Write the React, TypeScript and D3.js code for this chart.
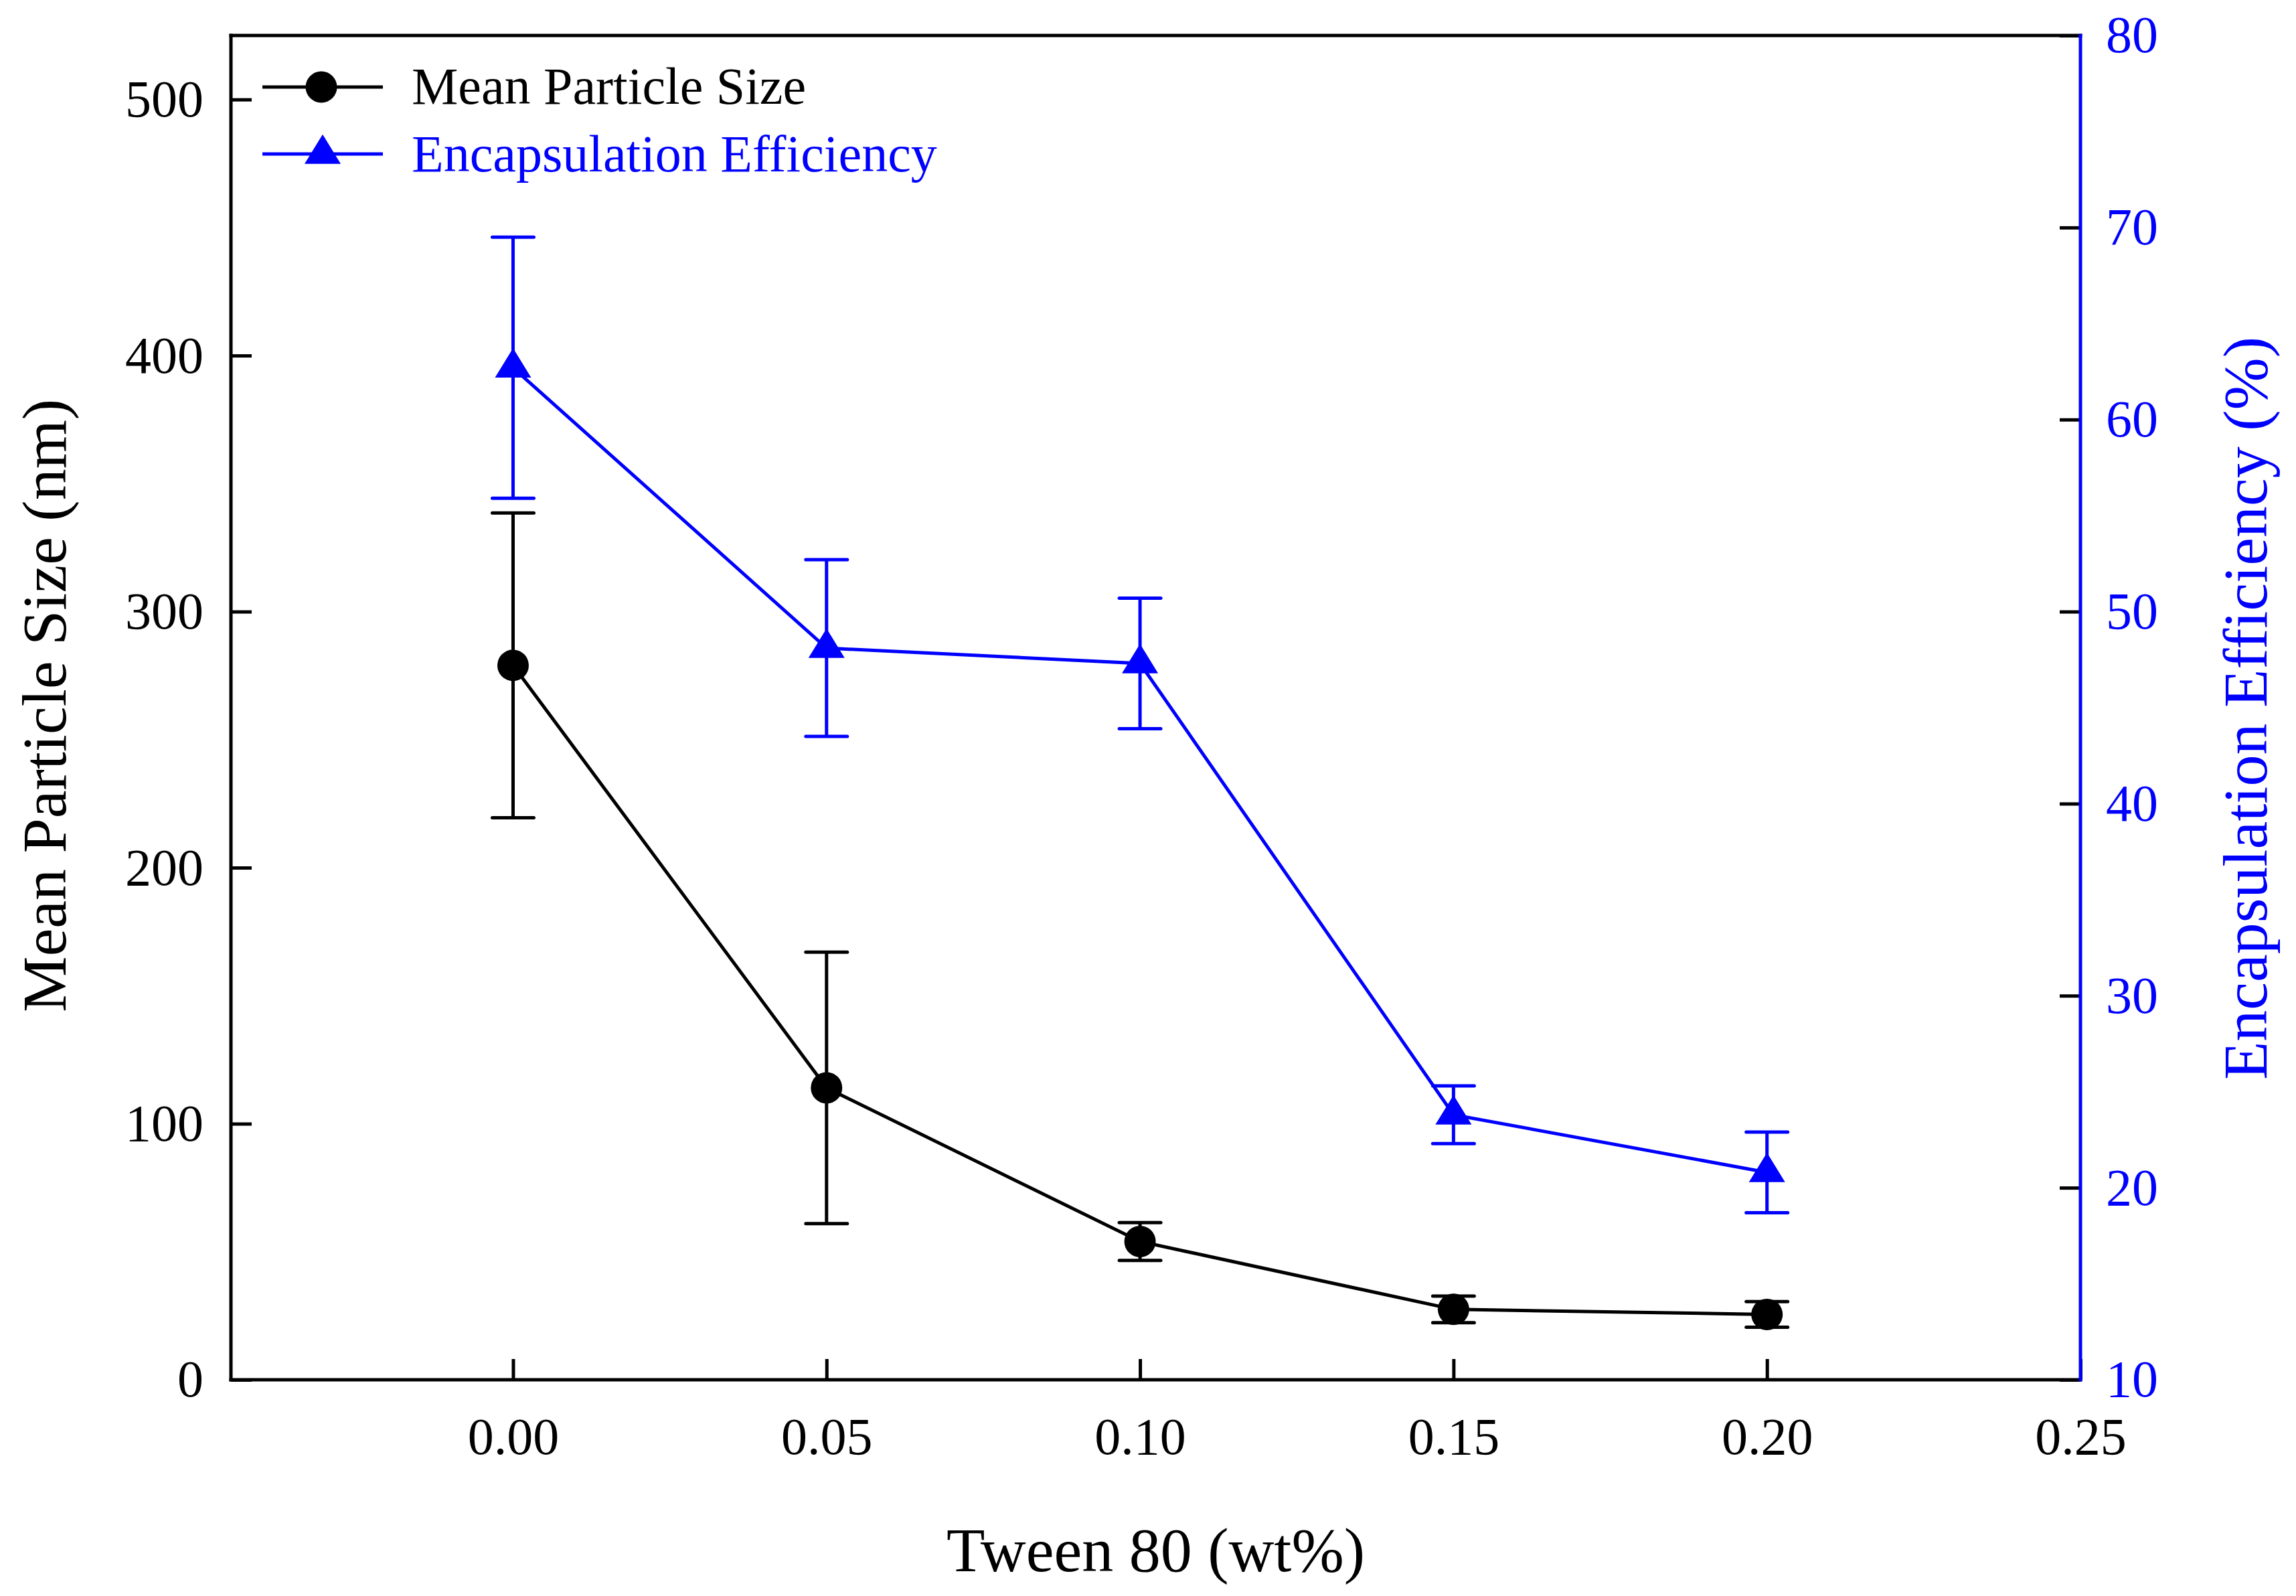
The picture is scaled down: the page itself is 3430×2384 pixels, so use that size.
import { useRef, useEffect } from "react";
import * as d3 from "d3";

// Tween 80 concentration (wt%)
const tween = [0, 0.05, 0.1, 0.15, 0.2];
// Mean particle size (nm) with error
const sizeMean = [279, 114, 54, 27.5, 25.5];
const sizeErr = [59.5, 53, 7.4, 5.2, 5];
// Encapsulation efficiency (%) with error
const eeMean = [62.7, 48.1, 47.3, 23.8, 20.8];
const eeErr = [6.8, 4.6, 3.4, 1.5, 2.1];

const xTicks = [0, 0.05, 0.1, 0.15, 0.2, 0.25];
const leftTicks = [0, 100, 200, 300, 400, 500];
const rightTicks = [10, 20, 30, 40, 50, 60, 70, 80];

const W = 3430;
const H = 2384;
const FONT = "'Liberation Serif', 'Times New Roman', serif";
const BLUE = "#0000ff";

export default function App() {
  const svgRef = useRef<SVGSVGElement>(null);

  useEffect(() => {
    if (!svgRef.current) return;
    const svg = d3.select(svgRef.current);
    svg.selectAll("*").remove();

    const m = { left: 345, right: 3108, top: 53, bottom: 2061 };

    const x = d3.scaleLinear().domain([-0.045, 0.25]).range([m.left, m.right]);
    const yL = d3.scaleLinear().domain([0, 525]).range([m.bottom, m.top]);
    const yR = d3.scaleLinear().domain([10, 80]).range([m.bottom, m.top]);

    const tri = (cx: number, cy: number) => {
      const h = 44, w = 27;
      return `M${cx},${cy - (2 * h) / 3}L${cx + w},${cy + h / 3}L${cx - w},${cy + h / 3}Z`;
    };

    // Axes (ticks inward)
    const bottom = svg.append("g").attr("transform", `translate(0,${m.bottom})`)
      .call(d3.axisBottom(x).tickValues(xTicks).tickSize(-31).tickPadding(56).tickFormat(d3.format(".2f")));
    bottom.select(".domain").remove();
    bottom.selectAll("line").attr("stroke", "#000").attr("stroke-width", 5);
    bottom.selectAll("text").attr("font-family", FONT).attr("font-size", 78).attr("fill", "#000");

    const left = svg.append("g").attr("transform", `translate(${m.left},0)`)
      .call(d3.axisLeft(yL).tickValues(leftTicks).tickSize(-31).tickPadding(41).tickFormat(d3.format("d")));
    left.select(".domain").remove();
    left.selectAll("line").attr("stroke", "#000").attr("stroke-width", 5);
    left.selectAll("text").attr("font-family", FONT).attr("font-size", 78).attr("fill", "#000");

    const right = svg.append("g").attr("transform", `translate(${m.right},0)`)
      .call(d3.axisRight(yR).tickValues(rightTicks).tickSize(-31).tickPadding(38).tickFormat(d3.format("d")));
    right.select(".domain").remove();
    right.selectAll("line").attr("stroke", "#000").attr("stroke-width", 5);
    right.selectAll("text").attr("font-family", FONT).attr("font-size", 78).attr("fill", BLUE);

    // Frame
    const frame = svg.append("g").attr("stroke-width", 5).attr("stroke-linecap", "square");
    frame.append("line").attr("x1", m.left).attr("x2", m.right).attr("y1", m.top).attr("y2", m.top).attr("stroke", "#000");
    frame.append("line").attr("x1", m.left).attr("x2", m.right).attr("y1", m.bottom).attr("y2", m.bottom).attr("stroke", "#000");
    frame.append("line").attr("x1", m.left).attr("x2", m.left).attr("y1", m.top).attr("y2", m.bottom).attr("stroke", "#000");
    frame.append("line").attr("x1", m.right).attr("x2", m.right).attr("y1", m.top).attr("y2", m.bottom).attr("stroke", BLUE);

    // Series
    const drawSeries = (mean: number[], err: number[], y: d3.ScaleLinear<number, number>, color: string, marker: "circle" | "tri") => {
      const g = svg.append("g");
      const pts = tween.map((t, i) => [x(t), y(mean[i])] as [number, number]);
      g.append("path").attr("d", d3.line()(pts)).attr("fill", "none").attr("stroke", color).attr("stroke-width", 5);
      tween.forEach((t, i) => {
        const cx = x(t);
        const y1 = y(mean[i] + err[i]);
        const y2 = y(mean[i] - err[i]);
        g.append("line").attr("x1", cx).attr("x2", cx).attr("y1", y1).attr("y2", y2).attr("stroke", color).attr("stroke-width", 5);
        [y1, y2].forEach((yy) => {
          g.append("line").attr("x1", cx - 31).attr("x2", cx + 31).attr("y1", yy).attr("y2", yy)
            .attr("stroke", color).attr("stroke-width", 5).attr("stroke-linecap", "round");
        });
      });
      tween.forEach((t, i) => {
        if (marker === "circle") {
          g.append("circle").attr("cx", x(t)).attr("cy", y(mean[i])).attr("r", 23.5).attr("fill", color);
        } else {
          g.append("path").attr("d", tri(x(t), y(mean[i]))).attr("fill", color);
        }
      });
    };
    drawSeries(sizeMean, sizeErr, yL, "#000", "circle");
    drawSeries(eeMean, eeErr, yR, BLUE, "tri");

    // Legend
    const lg = svg.append("g");
    lg.append("line").attr("x1", 392).attr("x2", 572).attr("y1", 130).attr("y2", 130).attr("stroke", "#000").attr("stroke-width", 5);
    lg.append("circle").attr("cx", 480).attr("cy", 130).attr("r", 23.5).attr("fill", "#000");
    lg.append("text").attr("x", 615).attr("y", 155).attr("font-family", FONT).attr("font-size", 78).attr("fill", "#000").text("Mean Particle Size");
    lg.append("line").attr("x1", 392).attr("x2", 572).attr("y1", 230).attr("y2", 230).attr("stroke", BLUE).attr("stroke-width", 5);
    lg.append("path").attr("d", tri(482, 230)).attr("fill", BLUE);
    lg.append("text").attr("x", 615).attr("y", 256).attr("font-family", FONT).attr("font-size", 78).attr("fill", BLUE).text("Encapsulation Efficiency");

    // Axis titles
    svg.append("text").attr("x", (m.left + m.right) / 2).attr("y", 2347).attr("text-anchor", "middle")
      .attr("font-family", FONT).attr("font-size", 94).attr("fill", "#000").text("Tween 80 (wt%)");
    svg.append("text").attr("transform", `translate(98,1054) rotate(-90)`).attr("text-anchor", "middle")
      .attr("font-family", FONT).attr("font-size", 94).attr("fill", "#000").text("Mean Particle Size (nm)");
    svg.append("text").attr("transform", `translate(3386,1058) rotate(-90)`).attr("text-anchor", "middle")
      .attr("font-family", FONT).attr("font-size", 94).attr("fill", BLUE).text("Encapsulation Efficiency (%)");
  }, []);

  return (
    <div>
      <style>{`body{margin:0;background:#fff}`}</style>
      <svg ref={svgRef} width={W} height={H} style={{ display: "block", background: "#fff" }} />
    </div>
  );
}
